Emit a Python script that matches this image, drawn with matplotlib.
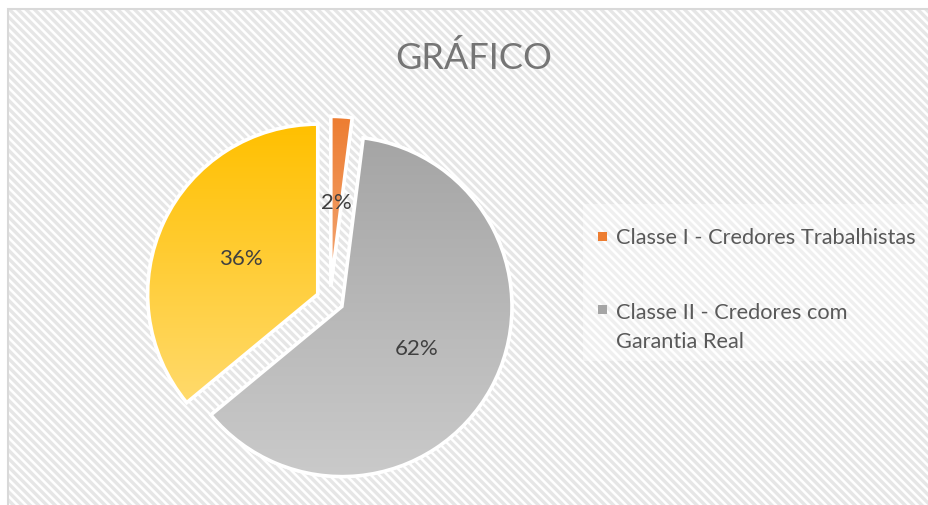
import matplotlib
matplotlib.use('Agg')
import matplotlib.pyplot as plt
import numpy as np
from matplotlib.patches import Rectangle, PathPatch
import matplotlib.colors as mcolors

# ---- data ----
categories = ["Classe I - Credores Trabalhistas",
              "Classe II - Credores com\nGarantia Real",
              "Classe III - Credores Quirografários"]
shares = [2, 62, 36]
legend_entries = 2          # only the first two entries are visible in the legend
title = "GRÁFICO"
top_colors = ["#ED7D31", "#A5A5A5", "#FFC000"]
bottom_colors = ["#F3A877", "#CACACA", "#FFDA6C"]

# ---- figure ----
W, H, DPI = 929, 506, 100
plt.rcParams['font.family'] = ['Lato', 'DejaVu Sans']
plt.rcParams['hatch.linewidth'] = 2.4
fig = plt.figure(figsize=(W / DPI, H / DPI), dpi=DPI)
fig.patch.set_facecolor('white')

bg = Rectangle((8 / W, -0.02), 1.05, 1 - 10 / H + 0.02, transform=fig.transFigure,
               facecolor='white', edgecolor='#E6E6E6', hatch='\\\\\\\\', lw=0, zorder=-2)
fig.patches.append(bg)
border = Rectangle((8 / W, -0.02), 1.05, 1 - 10 / H + 0.02, transform=fig.transFigure,
                   fill=False, edgecolor='#D9D9D9', lw=1.5, zorder=-1)
fig.patches.append(border)

# ---- pie ----
R = 170
cx, cy = 330, 301
half = 210
ax = fig.add_axes([(cx - half) / W, (H - cy - half) / H, 2 * half / W, 2 * half / H])
ax.set_zorder(1)
ax.patch.set_alpha(0)
wedges, texts, autotexts = ax.pie(
    shares, explode=[0.08] * len(shares), startangle=90, counterclock=False,
    colors=top_colors, autopct='%1.0f%%', pctdistance=0.5,
    wedgeprops=dict(edgecolor='white', linewidth=2.5),
    textprops=dict(color='#404040', fontsize=16))

for w, c0, c1 in zip(wedges, top_colors, bottom_colors):
    ext = w.get_path().get_extents()
    a = np.array(mcolors.to_rgb(c0))
    b = np.array(mcolors.to_rgb(c1))
    t = np.linspace(0, 1, 256)[:, None, None]
    grad = a[None, None, :] * (1 - t) + b[None, None, :] * t
    im = ax.imshow(grad, extent=[ext.x0, ext.x1, ext.y0, ext.y1], origin='upper',
                   aspect='auto', zorder=w.get_zorder() + 0.1, interpolation='bilinear')
    im.set_clip_path(w)
    ax.add_patch(PathPatch(w.get_path(), fill=False, ec='white', lw=2.5, zorder=3))

for t in autotexts:
    t.set_zorder(5)

ax.set_xlim(-half / R, half / R)
ax.set_ylim(-half / R, half / R)
ax.set_aspect('equal')
ax.axis('off')

# ---- title ----
fig.text(474 / W, 1 - 58 / H, title, ha='center', va='center', fontsize=26, color='#757575')

# ---- legend (drawn by hand so the marker sits on the first text line) ----
fig.patches.append(Rectangle((583 / W, 1 - 362 / H), (W - 583) / W, 157 / H,
                             transform=fig.transFigure, facecolor='white', alpha=0.4,
                             edgecolor='none', zorder=0))
entry_y = [237, 310]      # centre of the first text line of each entry (px)
line_step = 31            # px between text lines
for i in range(legend_entries):
    y = entry_y[i]
    nlines = categories[i].count('\n') + 1
    fig.patches.append(Rectangle((598 / W, 1 - (y + 4.5) / H), 9 / W, 9 / H,
                                 transform=fig.transFigure, facecolor=top_colors[i],
                                 edgecolor='none', zorder=2))
    base_last = y + 7.5 + (nlines - 1) * line_step
    fig.text(616 / W, 1 - base_last / H, categories[i], ha='left', va='baseline',
             fontsize=15.7, color='#595959', linespacing=1.62, zorder=2)

fig.savefig('out.png', dpi=DPI)
